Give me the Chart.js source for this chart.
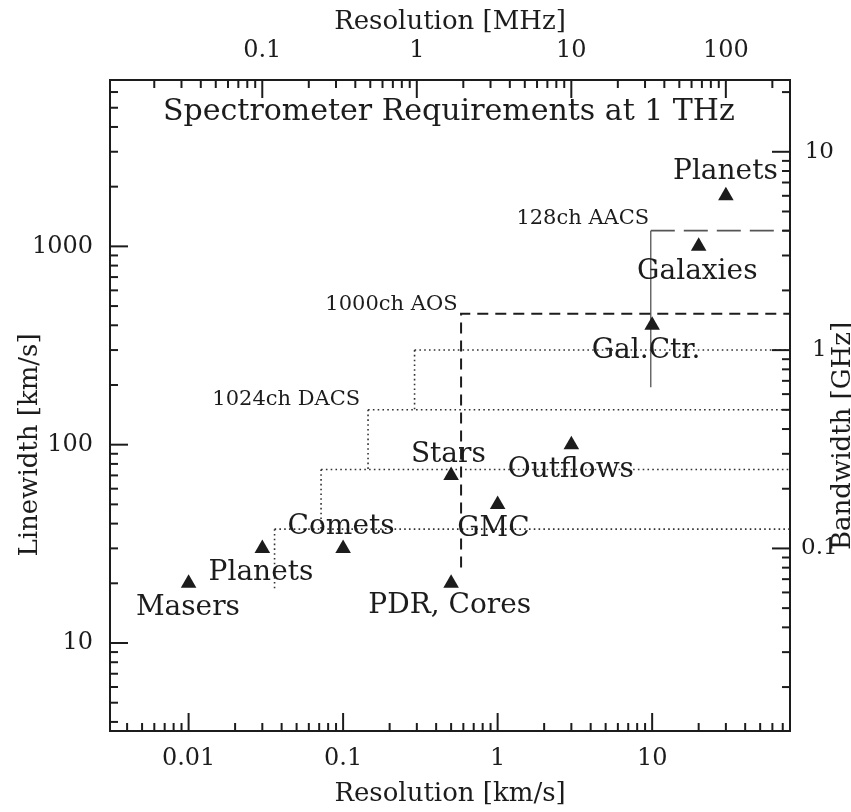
<!DOCTYPE html>
<html>
<head>
<meta charset="utf-8">
<script src="https://cdn.jsdelivr.net/npm/chart.js@4.4.1/dist/chart.umd.min.js"></script>
<style>
  html, body { margin: 0; padding: 0; background: #fff; }
  canvas { display: block; }
</style>
</head>
<body>
<canvas id="chart" width="851" height="812"></canvas>
<script>
// sources: resolution and linewidth, both in km/s
const sourceNames = ['Masers', 'Planets', 'Comets', 'Stars', 'PDR, Cores', 'GMC', 'Outflows', 'Gal.Ctr.', 'Galaxies', 'Planets'];
const sourceRes = [0.01, 0.03, 0.1, 0.5, 0.5, 1, 3, 10, 20, 30];
const sourceWidth = [20, 30, 30, 70, 20, 50, 100, 400, 1000, 1800];

// spectrometers (km/s): resolution, bandwidth, lower end of the drop line
const aosRes = 0.58, aosBw = 457, aosLow = 24;
const aacsRes = 9.8, aacsBw = 1200, aacsLow = 195;
const dacsRes = [0.29, 0.145, 0.072, 0.036];
const dacsBw = [300, 150, 75, 37.5];
const dacsLow = 18.7;

// axes
const xMin = 0.0031, xMax = 78;
const yMin = 3.6, yMax = 6900;
const kmsPerMHz = 0.2998;
const kmsPerGHz = 299.8;
const resLabels = ['0.01', '0.1', '1', '10'];
const mhzLabels = ['0.1', '1', '10', '100'];
const widthLabels = ['10', '100', '1000'];
const ghzLabels = ['0.1', '1', '10'];

const ink = '#1c1c1c';
const serif = "'DejaVu Serif', serif";

// text inside the frame, placed in km/s units
const notes = [
  { text: 'Spectrometer Requirements at 1 THz', x: 0.484, y: 4750, size: 30 },
  { text: 'Masers', x: 0.0099, y: 15.1 },
  { text: 'Planets', x: 0.0294, y: 22.5 },
  { text: 'Comets', x: 0.097, y: 38.8 },
  { text: 'Stars', x: 0.48, y: 88.7 },
  { text: 'PDR, Cores', x: 0.49, y: 15.5 },
  { text: 'GMC', x: 0.94, y: 37.5 },
  { text: 'Outflows', x: 2.98, y: 74.5 },
  { text: 'Gal.Ctr.', x: 9.14, y: 297 },
  { text: 'Galaxies', x: 19.6, y: 745 },
  { text: 'Planets', x: 29.8, y: 2383 },
  { text: '128ch AACS', x: 9.57, y: 1380, size: 21, align: 'right' },
  { text: '1000ch AOS', x: 0.55, y: 508, size: 21, align: 'right' },
  { text: '1024ch DACS', x: 0.129, y: 168, size: 21, align: 'right' }
];

function logTicks(min, max, labels) {
  const out = [];
  const majors = labels.map(Number);
  for (let e = Math.floor(Math.log10(min)); e <= Math.floor(Math.log10(max)); e++) {
    const d = Math.pow(10, e);
    for (let k = 2; k <= 9; k++) {
      const v = d * k;
      if (v > min && v < max) out.push({ value: v, major: false });
    }
  }
  majors.forEach(v => { if (v > min && v < max) out.push({ value: v, major: true }); });
  return out.sort((a, b) => a.value - b.value);
}

function axis(position, min, max, labels, extra) {
  return Object.assign({
    type: 'logarithmic',
    position: position,
    min: min,
    max: max,
    afterBuildTicks: s => { s.ticks = logTicks(s.min, s.max, labels); },
    grid: { drawOnChartArea: false, drawTicks: false },
    border: { display: true, color: ink, width: 2 },
    ticks: {
      autoSkip: false, maxRotation: 0, minRotation: 0,
      color: ink, font: { family: serif, size: 24 },
      callback: v => (labels.indexOf(String(v)) >= 0 ? String(v) : '')
    }
  }, extra);
}

const scales = {
  x: axis('bottom', xMin, xMax, resLabels, {
    afterFit: s => { s.height = 81; },
    title: { display: true, text: 'Resolution [km/s]', color: ink, font: { family: serif, size: 26 }, padding: { top: 0, bottom: 2 } }
  }),
  x2: axis('top', xMin / kmsPerMHz, xMax / kmsPerMHz, mhzLabels, {
    afterFit: s => { s.height = 80; },
    title: { display: true, text: 'Resolution [MHz]', color: ink, font: { family: serif, size: 26 }, padding: { top: 7, bottom: 0 } }
  }),
  y: axis('left', yMin, yMax, widthLabels, { afterFit: s => { s.width = 110; } }),
  y2: axis('right', yMin / kmsPerGHz, yMax / kmsPerGHz, ghzLabels, { afterFit: s => { s.width = 61; } })
};
scales.x.ticks.padding = 13;
scales.x2.ticks.padding = 15;
scales.y.ticks.padding = 17;
scales.y2.ticks.padding = 11;
scales.y2.ticks.crossAlign = 'center';
scales.y2.ticks.font = { family: serif, size: 23 };

function seg(points, color, width, dash) {
  return { data: points, showLine: true, pointRadius: 0, borderColor: color, borderWidth: width, borderDash: dash, fill: false };
}

const datasets = [{
  data: sourceRes.map((r, i) => ({ x: r, y: sourceWidth[i] })),
  pointStyle: 'triangle', pointRadius: 9, pointBackgroundColor: ink, pointBorderWidth: 0
}];
datasets.push(seg([{ x: aosRes, y: aosLow }, { x: aosRes, y: aosBw }, { x: xMax, y: aosBw }], ink, 2, [11, 7]));
datasets.push(seg([{ x: aacsRes, y: aacsBw }, { x: xMax, y: aacsBw }], '#555', 1.6, [24, 9]));
datasets.push(seg([{ x: aacsRes, y: aacsLow }, { x: aacsRes, y: aacsBw }], '#444', 1.2, []));
dacsRes.forEach((r, i) => {
  const next = i + 1 < dacsBw.length ? dacsBw[i + 1] : dacsLow;
  datasets.push(seg([{ x: r, y: dacsBw[i] }, { x: xMax, y: dacsBw[i] }], '#333', 1.6, [1.6, 3.2]));
  datasets.push(seg([{ x: r, y: dacsBw[i] }, { x: r, y: next }], '#333', 1.6, [1.6, 3.2]));
});

// tick marks point into the frame, long at decades
const innerTicks = {
  id: 'innerTicks',
  afterDraw(chart) {
    const { ctx, chartArea: a, scales: sc } = chart;
    ctx.save();
    ctx.strokeStyle = ink;
    ctx.lineWidth = 2;
    [['x', 'bottom'], ['x2', 'top'], ['y', 'left'], ['y2', 'right']].forEach(([id, side]) => {
      const s = sc[id];
      s.ticks.forEach(t => {
        const p = s.getPixelForValue(t.value);
        const len = t.major ? 18 : 8;
        ctx.beginPath();
        if (side === 'bottom') { ctx.moveTo(p, a.bottom); ctx.lineTo(p, a.bottom - len); }
        if (side === 'top') { ctx.moveTo(p, a.top); ctx.lineTo(p, a.top + len); }
        if (side === 'left') { ctx.moveTo(a.left, p); ctx.lineTo(a.left + len, p); }
        if (side === 'right') { ctx.moveTo(a.right, p); ctx.lineTo(a.right - len, p); }
        ctx.stroke();
      });
    });

    // notes
    ctx.fillStyle = ink;
    ctx.textBaseline = 'middle';
    notes.forEach(n => {
      ctx.font = (n.size || 28) + 'px ' + serif;
      ctx.textAlign = n.align || 'center';
      ctx.fillText(n.text, sc.x.getPixelForValue(n.x), sc.y.getPixelForValue(n.y));
    });

    // vertical axis titles, both read bottom to top
    ctx.font = '26px ' + serif;
    ctx.textAlign = 'center';
    [['Linewidth [km/s]', 30, 445], ['Bandwidth [GHz]', 843, 436]].forEach(([txt, x, y]) => {
      ctx.save();
      ctx.translate(x, y);
      ctx.rotate(-Math.PI / 2);
      ctx.fillText(txt, 0, 0);
      ctx.restore();
    });
    ctx.restore();
  }
};

new Chart(document.getElementById('chart'), {
  type: 'scatter',
  data: { datasets: datasets },
  options: {
    responsive: false,
    animation: false,
    layout: { padding: 0 },
    plugins: { legend: { display: false }, tooltip: { enabled: false } },
    scales: scales
  },
  plugins: [innerTicks]
});
</script>
</body>
</html>
